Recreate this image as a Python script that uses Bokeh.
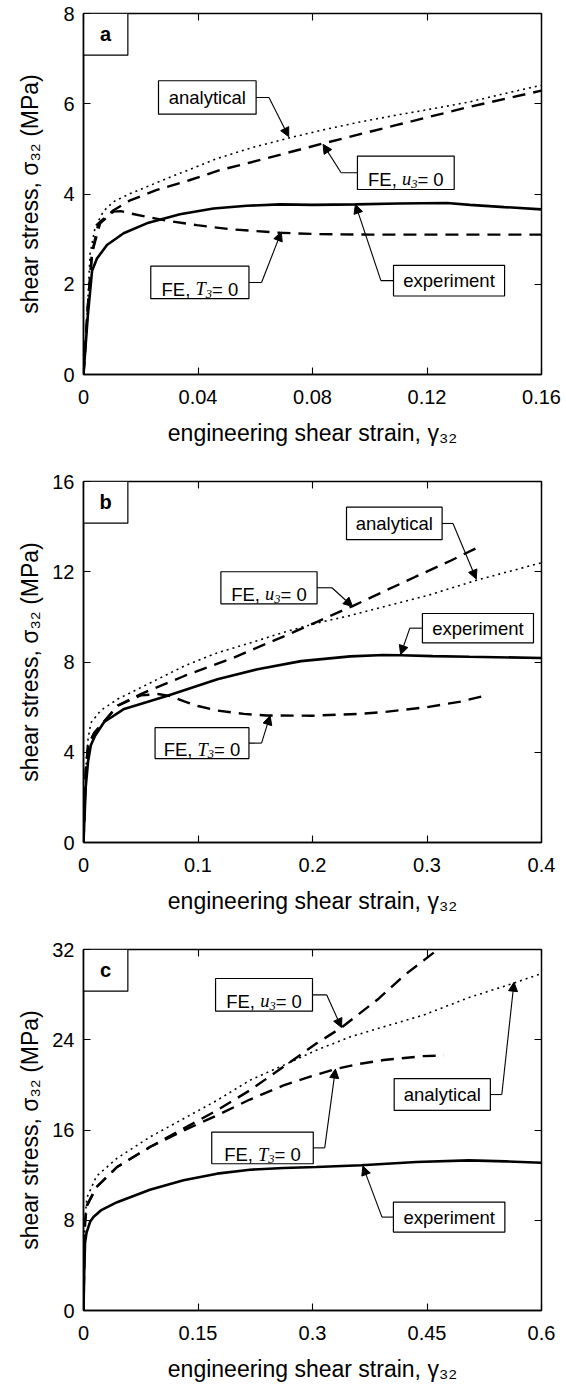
from bokeh.plotting import figure
from bokeh.layouts import column
from bokeh.models import (Range1d, FixedTicker, LinearAxis, Arrow, NormalHead,
                          CustomJSTickFormatter, NumeralTickFormatter)
from bokeh.core.properties import value
from bokeh.embed import file_html
from bokeh.resources import INLINE

# ---------------- data ----------------
# panel a
a_xticks = [0, 0.04, 0.08, 0.12, 0.16]
a_yticks = [0, 2, 4, 6, 8]
a_exp_x = [0, 0.0015, 0.003, 0.0047, 0.0082, 0.014, 0.0221, 0.0337, 0.0454, 0.057, 0.0686, 0.08, 0.095, 0.11, 0.127, 0.135, 0.147, 0.16]
a_exp_y = [0, 1.3, 2.3, 2.57, 2.87, 3.13, 3.35, 3.55, 3.68, 3.74, 3.77, 3.76, 3.77, 3.79, 3.80, 3.76, 3.71, 3.66]
a_ana_x = [0, 0.0015, 0.0023, 0.0041, 0.007, 0.0105, 0.0163, 0.0221, 0.0314, 0.0464, 0.059, 0.0717, 0.0843, 0.0969, 0.1095, 0.1221, 0.1348, 0.1474, 0.16]
a_ana_y = [0, 1.6, 2.68, 3.27, 3.62, 3.83, 4.01, 4.16, 4.40, 4.78, 5.03, 5.24, 5.43, 5.60, 5.75, 5.89, 6.04, 6.23, 6.41]
a_u3_x = [0, 0.0015, 0.003, 0.0052, 0.0105, 0.0163, 0.0256, 0.0372, 0.0477, 0.059, 0.0837, 0.1095, 0.1347, 0.16]
a_u3_y = [0, 1.5, 2.7, 3.35, 3.64, 3.86, 4.09, 4.31, 4.53, 4.71, 5.12, 5.53, 5.93, 6.29]
a_t3_x = [0, 0.0015, 0.003, 0.0058, 0.0105, 0.013, 0.0163, 0.028, 0.0396, 0.0512, 0.0686, 0.0826, 0.1, 0.12, 0.14, 0.16]
a_t3_y = [0, 1.5, 2.7, 3.35, 3.61, 3.62, 3.57, 3.42, 3.31, 3.22, 3.14, 3.11, 3.10, 3.10, 3.10, 3.10]

# panel b
b_xticks = [0, 0.1, 0.2, 0.3, 0.4]
b_yticks = [0, 4, 8, 12, 16]
b_exp_x = [0, 0.002, 0.004, 0.0064, 0.01, 0.018, 0.0355, 0.072, 0.117, 0.152, 0.19, 0.233, 0.262, 0.277, 0.305, 0.337, 0.4]
b_exp_y = [0, 2.5, 3.6, 4.31, 4.72, 5.34, 5.92, 6.48, 7.24, 7.68, 8.04, 8.25, 8.31, 8.30, 8.26, 8.23, 8.18]
b_ana_x = [0, 0.002, 0.004, 0.0064, 0.015, 0.03, 0.059, 0.088, 0.117, 0.146, 0.175, 0.204, 0.233, 0.262, 0.3, 0.343, 0.4]
b_ana_y = [0, 3.2, 4.6, 5.3, 5.85, 6.36, 7.09, 7.82, 8.41, 8.85, 9.32, 9.73, 10.06, 10.45, 10.94, 11.62, 12.4]
b_u3_x = [0, 0.002, 0.004, 0.0093, 0.03, 0.05, 0.088, 0.131, 0.175, 0.204, 0.235, 0.262, 0.29, 0.321, 0.348]
b_u3_y = [0, 3.2, 4.3, 4.85, 6.07, 6.58, 7.38, 8.19, 9.14, 9.78, 10.48, 11.12, 11.78, 12.5, 13.17]
b_t3_x = [0, 0.002, 0.004, 0.0093, 0.03, 0.05, 0.065, 0.075, 0.088, 0.1, 0.117, 0.14, 0.16, 0.2, 0.24, 0.262, 0.3, 0.33, 0.354]
b_t3_y = [0, 3.2, 4.3, 4.85, 6.07, 6.52, 6.58, 6.5, 6.25, 6.05, 5.85, 5.7, 5.63, 5.62, 5.7, 5.78, 6.0, 6.25, 6.55]

# panel c
c_xticks = [0, 0.15, 0.3, 0.45, 0.6]
c_yticks = [0, 8, 16, 24, 32]
c_exp_x = [0, 0.001, 0.002, 0.004, 0.0085, 0.013, 0.0227, 0.044, 0.087, 0.131, 0.175, 0.218, 0.262, 0.305, 0.364, 0.436, 0.505, 0.553, 0.6]
c_exp_y = [0, 3.5, 6.0, 6.9, 7.84, 8.28, 8.87, 9.6, 10.71, 11.54, 12.13, 12.48, 12.63, 12.72, 12.87, 13.17, 13.31, 13.22, 13.1]
c_ana_x = [0, 0.001, 0.002, 0.0044, 0.017, 0.044, 0.087, 0.131, 0.175, 0.218, 0.262, 0.305, 0.349, 0.393, 0.445, 0.505, 0.562, 0.6]
c_ana_y = [0, 5.0, 8.0, 10.0, 11.9, 13.5, 15.38, 17.0, 18.63, 20.41, 21.74, 23.07, 24.25, 25.14, 26.18, 27.74, 28.98, 29.87]
c_u3_x = [0, 0.001, 0.002, 0.0044, 0.017, 0.044, 0.087, 0.131, 0.175, 0.218, 0.262, 0.305, 0.338, 0.387, 0.42, 0.468]
c_u3_y = [0, 5.0, 7.8, 9.3, 10.94, 12.72, 14.49, 16.12, 17.75, 19.52, 21.6, 23.66, 25.08, 27.66, 29.7, 32.2]
c_t3_x = [0, 0.001, 0.002, 0.0044, 0.017, 0.044, 0.087, 0.131, 0.175, 0.218, 0.262, 0.3, 0.33, 0.36, 0.393, 0.445, 0.472]
c_t3_y = [0, 5.0, 7.8, 9.3, 10.94, 12.72, 14.49, 15.95, 17.3, 18.7, 19.95, 20.8, 21.4, 21.85, 22.2, 22.55, 22.6]

x_title = "engineering shear strain, γ₃₂"
y_title = "shear stress, σ₃₂ (MPa)"

# ---------------- annotation layout (box l, r, b, t ; leader elbow x ; arrow tip x, y) ----------------
U3 = "u3"
T3 = "T3"
a_notes = [
    ("analytical", (0.0262, 0.0603, 5.77, 6.51), 0.0648, (0.0717, 5.27)),
    (U3, (0.0957, 0.1295, 4.10, 4.84), 0.0900, (0.0837, 5.10)),
    (T3, (0.0235, 0.0578, 1.68, 2.40), 0.0622, (0.0691, 3.16)),
    ("experiment", (0.1083, 0.1471, 1.74, 2.42), 0.1039, (0.0950, 3.77)),
]
b_notes = [
    ("analytical", (0.2297, 0.3132, 13.42, 14.86), 0.3227, (0.343, 11.68)),
    (U3, (0.1200, 0.2040, 10.58, 12.00), 0.2170, (0.235, 10.46)),
    ("experiment", (0.2960, 0.3930, 8.85, 10.15), 0.2850, (0.277, 8.33)),
    (T3, (0.0625, 0.1445, 3.72, 5.09), 0.1555, (0.163, 5.62)),
]
c_notes = [
    (U3, (0.173, 0.300, 26.53, 29.43), 0.3185, (0.338, 25.08)),
    (T3, (0.168, 0.301, 13.01, 15.82), 0.3160, (0.330, 21.40)),
    ("analytical", (0.407, 0.533, 17.74, 20.55), 0.5480, (0.564, 29.10)),
    ("experiment", (0.406, 0.552, 6.95, 9.61), 0.3910, (0.366, 12.80)),
]

SANS = "Liberation Sans"
SERIF = "Liberation Serif"
NOTE_FS = 18.5
SUB_FS = 12.5

SANS_W = {"F": .611, "E": .667, ",": .278, " ": .278, "=": .584, "0": .556}


def sans_w(s, fs):
    return sum(SANS_W.get(ch, .556) for ch in s) * fs


def add_note(p, spec):
    text, (l, r, b, t), elbow, (tx, ty) = spec
    cx = (l + r) / 2.0
    cy = (b + t) / 2.0
    p.quad(left=[l], right=[r], bottom=[b], top=[t], fill_color="white",
           line_color="black", line_width=1.2)
    base = NOTE_FS * 0.716 / 2.0
    if text in (U3, T3):
        letter = "u" if text == U3 else "T"
        lw = (0.5 if letter == "u" else 0.556) * NOTE_FS
        runs = [("FE, ", SANS, "normal", NOTE_FS, sans_w("FE, ", NOTE_FS), 0),
                (letter, SERIF, "italic", NOTE_FS, lw, 0),
                ("3", SERIF, "italic", SUB_FS, 0.5 * SUB_FS, 4.5),
                ("= 0", SANS, "normal", NOTE_FS, sans_w("= 0", NOTE_FS), 0)]
        total = sum(rr[4] for rr in runs)
        off = -total / 2.0
        for s, font, style, fs, w, dy in runs:
            p.text(x=[cx], y=[cy], text=[s], x_offset=off, y_offset=base + dy,
                   text_font=value(font), text_font_style=style,
                   text_font_size=f"{fs}px", text_align="left",
                   text_baseline="alphabetic", text_color="black")
            off += w
    else:
        p.text(x=[cx], y=[cy], text=[text], text_font=value(SANS),
               text_font_size=f"{NOTE_FS}px", text_align="center",
               text_baseline="middle", text_color="black")
    # leader line: from box edge horizontally to elbow, then arrow to tip
    edge = r if elbow > r else l
    p.line([edge, elbow], [cy, cy], line_color="black", line_width=1.1)
    p.add_layout(Arrow(end=NormalHead(size=9, fill_color="black", line_color="black"),
                       x_start=elbow, y_start=cy, x_end=tx, y_end=ty,
                       line_color="black", line_width=1.1))


def make_panel(letter, xmax, ymax, xticks, yticks, exp, ana, u3, t3, notes,
               height, bottom, ystand, xfmt):
    p = figure(width=566, height=height, x_range=Range1d(0, xmax), y_range=Range1d(0, ymax),
               output_backend="svg", toolbar_location=None,
               min_border_left=83, min_border_right=25, min_border_top=13,
               min_border_bottom=bottom, background_fill_color="white",
               border_fill_color="white")
    p.grid.visible = False
    p.outline_line_color = "black"
    p.outline_line_width = 1.5

    xa = p.xaxis[0]
    xa.ticker = FixedTicker(ticks=xticks)
    xa.formatter = NumeralTickFormatter(format=xfmt)
    ya = p.yaxis[0]
    ya.ticker = FixedTicker(ticks=yticks)
    for ax in (xa, ya):
        ax.major_tick_in = 7
        ax.major_tick_out = 0
        ax.minor_tick_line_color = None
        ax.axis_line_color = "black"
        ax.axis_line_width = 1.5
        ax.major_tick_line_color = "black"
        ax.major_tick_line_width = 1.1
        ax.major_label_text_font = SANS
        ax.major_label_text_font_size = "20px"
        ax.major_label_text_color = "black"
        ax.axis_label_text_font = SANS
        ax.axis_label_text_font_size = "23px"
        ax.axis_label_text_font_style = "normal"
        ax.axis_label_text_color = "black"
    xa.axis_label = x_title
    xa.major_label_standoff = 15
    xa.axis_label_standoff = 13
    ya.axis_label = y_title
    ya.major_label_standoff = 9
    ya.axis_label_standoff = ystand

    for loc, tk in (("above", xticks), ("right", yticks)):
        ax = LinearAxis(ticker=FixedTicker(ticks=tk),
                        formatter=CustomJSTickFormatter(code="return ''"),
                        major_tick_in=7, major_tick_out=0, major_label_standoff=0,
                        minor_tick_line_color=None, axis_line_color=None,
                        major_tick_line_color="black", major_tick_line_width=1.1)
        p.add_layout(ax, loc)

    p.line(exp[0], exp[1], line_color="black", line_width=2.6)
    p.line(t3[0], t3[1], line_color="black", line_width=2.4, line_dash="13 8")
    p.line(u3[0], u3[1], line_color="black", line_width=2.4, line_dash="13 8")
    p.line(ana[0], ana[1], line_color="black", line_width=1.6, line_dash="2 4")

    for spec in notes:
        add_note(p, spec)

    # panel letter box in the top-left corner
    bx = xmax * 44.4 / 458.4
    by = ymax * (1 - 41.7 / 361.0)
    p.quad(left=[0], right=[bx], bottom=[by], top=[ymax], fill_color="white",
           line_color="black", line_width=1.2)
    p.text(x=[bx / 2], y=[(by + ymax) / 2], text=[letter], text_font=value(SANS),
           text_font_style="bold", text_font_size="20px", text_align="center",
           text_baseline="middle", text_color="black")
    return p


pa = make_panel("a", 0.16, 8, a_xticks, a_yticks, (a_exp_x, a_exp_y), (a_ana_x, a_ana_y),
                (a_u3_x, a_u3_y), (a_t3_x, a_t3_y), a_notes, 468, 94, 17, "0.[00]")
pb = make_panel("b", 0.4, 16, b_xticks, b_yticks, (b_exp_x, b_exp_y), (b_ana_x, b_ana_y),
                (b_u3_x, b_u3_y), (b_t3_x, b_t3_y), b_notes, 468, 94, 6, "0.[00]")
pc = make_panel("c", 0.6, 32, c_xticks, c_yticks, (c_exp_x, c_exp_y), (c_ana_x, c_ana_y),
                (c_u3_x, c_u3_y), (c_t3_x, c_t3_y), c_notes, 454, 80, 6, "0.[00]")

layout = column(pa, pb, pc, spacing=0)
open("out.html", "w").write(file_html(layout, INLINE))
